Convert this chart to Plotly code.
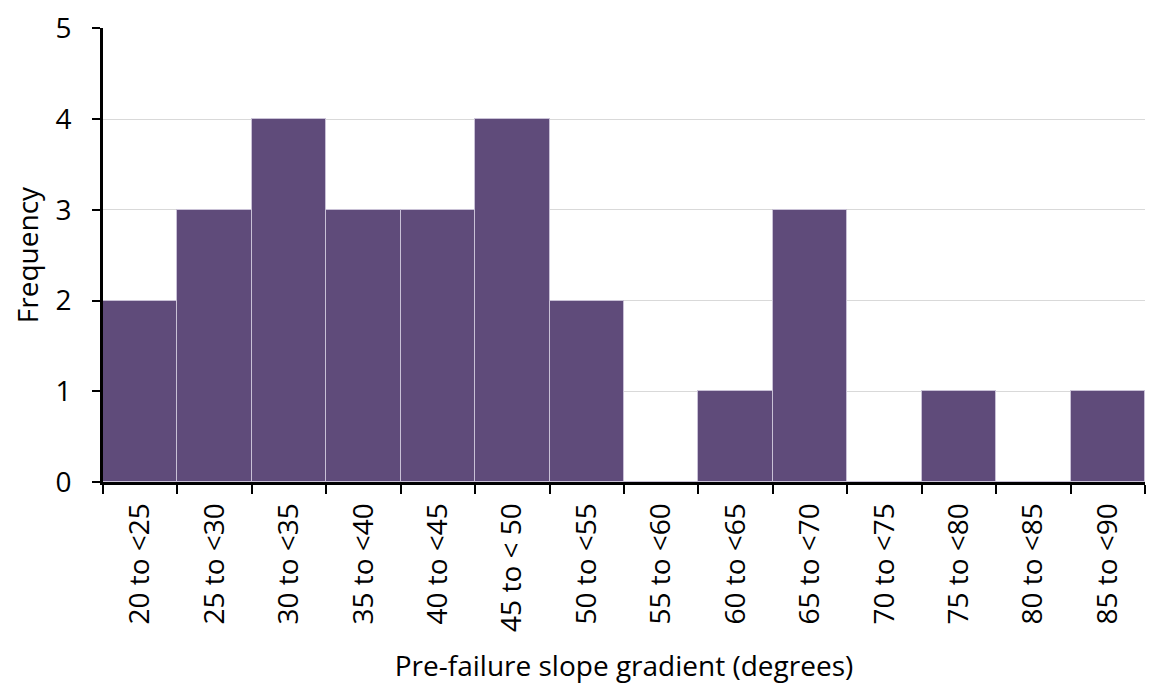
import plotly.graph_objects as go

categories = ["20 to <25", "25 to <30", "30 to <35", "35 to <40", "40 to <45",
              "45 to < 50", "50 to <55", "55 to <60", "60 to <65", "65 to <70",
              "70 to <75", "75 to <80", "80 to <85", "85 to <90"]
frequency = [2, 3, 4, 3, 3, 4, 2, 0, 1, 3, 0, 1, 0, 1]
y_ticks = [0, 1, 2, 3, 4, 5]

FONT = "Open Sans"

fig = go.Figure(go.Bar(
    x=categories, y=frequency,
    marker=dict(color="#5F4B7A", line=dict(color="#C9C1D6", width=1)),
))

fig.update_layout(
    width=1156, height=688,
    margin=dict(l=95, r=19, t=20, b=214, autoexpand=False),
    paper_bgcolor="white", plot_bgcolor="white",
    bargap=0, showlegend=False,
    font=dict(family=FONT, color="black"),
)
fig.update_xaxes(
    type="category", tickson="boundaries", ticks="outside", ticklen=9, tickwidth=2,
    tickcolor="black", showline=True, linecolor="black", linewidth=3,
    tickangle=-90, tickfont=dict(size=28, family=FONT), ticklabelstandoff=7,
    title=dict(text="Pre-failure slope gradient (degrees)", font=dict(size=28, family=FONT), standoff=26),
    showgrid=False,
)
fig.update_yaxes(
    range=[0, 5.004], tickvals=y_ticks, ticks="outside", ticklen=8, tickwidth=2,
    tickcolor="black", showline=True, linecolor="black", linewidth=3,
    tickfont=dict(size=28, family=FONT), ticklabelstandoff=15, ticklabeloverflow="allow",
    showgrid=True, gridcolor="#D9D9D9", gridwidth=1, zeroline=False,
    title=dict(text="Frequency", font=dict(size=28, family=FONT), standoff=19),
)

fig.write_html("out.html")
